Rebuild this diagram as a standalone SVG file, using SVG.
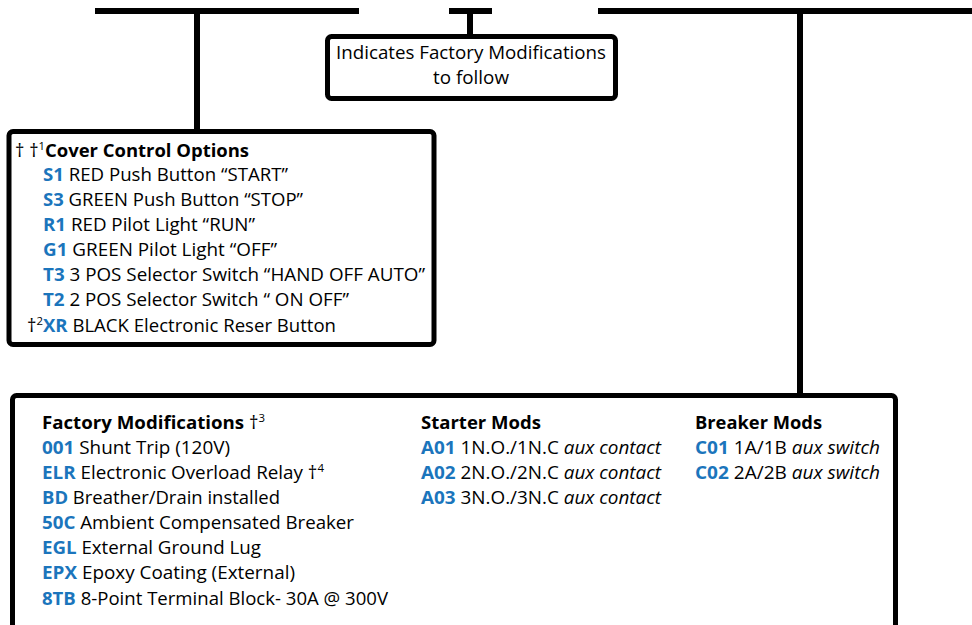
<svg xmlns="http://www.w3.org/2000/svg" width="972" height="625" viewBox="0 0 972 625">
<style>
.ln{stroke:#000;stroke-width:6;fill:none}
.bx{stroke:#000;stroke-width:5;fill:#fff}
text{font-family:"Open Sans","Noto Sans","Liberation Sans",sans-serif;font-size:18px;fill:#000}
.b{font-weight:bold}
.c{font-weight:bold;fill:#1b75bc}
.i{font-style:italic}
.s{font-size:11px}
</style>
<rect width="972" height="625" fill="#fff"/>
<g id="connectors">
<line class="ln" x1="95" y1="11" x2="359" y2="11"/>
<line class="ln" x1="449" y1="11" x2="492" y2="11"/>
<line class="ln" x1="598" y1="11" x2="972" y2="11"/>
<line class="ln" x1="197" y1="11" x2="197" y2="131"/>
<line class="ln" x1="470" y1="11" x2="470" y2="37"/>
<line class="ln" x1="800" y1="11" x2="800" y2="396"/>
</g>
<g id="note">
<rect class="bx" x="327.5" y="36.5" width="288" height="62" rx="4"/>
<text x="336" y="59" textLength="270" lengthAdjust="spacingAndGlyphs">Indicates Factory Modifications</text>
<text x="433" y="84" textLength="76" lengthAdjust="spacingAndGlyphs">to follow</text>
</g>
<g id="cover-control">
<rect class="bx" x="9" y="131.5" width="425" height="213" rx="4"/>
<text x="15" y="157" textLength="234" lengthAdjust="spacingAndGlyphs">† †<tspan class="s" dy="-7">1</tspan><tspan class="b" dy="7">Cover Control Options</tspan></text>
<text x="43" y="181" textLength="245" lengthAdjust="spacingAndGlyphs"><tspan class="c">S1</tspan> RED Push Button “START”</text>
<text x="43" y="206" textLength="260" lengthAdjust="spacingAndGlyphs"><tspan class="c">S3</tspan> GREEN Push Button “STOP”</text>
<text x="43" y="231" textLength="212" lengthAdjust="spacingAndGlyphs"><tspan class="c">R1</tspan> RED Pilot Light “RUN”</text>
<text x="43" y="256" textLength="234" lengthAdjust="spacingAndGlyphs"><tspan class="c">G1</tspan> GREEN Pilot Light “OFF”</text>
<text x="43" y="281" textLength="382" lengthAdjust="spacingAndGlyphs"><tspan class="c">T3</tspan> 3 POS Selector Switch “HAND OFF AUTO”</text>
<text x="43" y="306" textLength="306" lengthAdjust="spacingAndGlyphs"><tspan class="c">T2</tspan> 2 POS Selector Switch “ ON OFF”</text>
<text x="27" y="332" textLength="309" lengthAdjust="spacingAndGlyphs">†<tspan class="s" dy="-7">2</tspan><tspan class="c" dy="7">XR</tspan> BLACK Electronic Reser Button</text>
</g>
<g id="modifications">
<rect class="bx" x="12.5" y="395.5" width="883" height="260" rx="4"/>
<text x="42" y="429" textLength="223" lengthAdjust="spacingAndGlyphs"><tspan class="b">Factory Modifications</tspan> †<tspan class="s" dy="-7">3</tspan></text>
<text x="42" y="454" textLength="188" lengthAdjust="spacingAndGlyphs"><tspan class="c">001</tspan> Shunt Trip (120V)</text>
<text x="42" y="479" textLength="282" lengthAdjust="spacingAndGlyphs"><tspan class="c">ELR</tspan> Electronic Overload Relay †<tspan class="s" dy="-7">4</tspan></text>
<text x="42" y="504" textLength="238" lengthAdjust="spacingAndGlyphs"><tspan class="c">BD</tspan> Breather/Drain installed</text>
<text x="42" y="529" textLength="312" lengthAdjust="spacingAndGlyphs"><tspan class="c">50C</tspan> Ambient Compensated Breaker</text>
<text x="42" y="554" textLength="219" lengthAdjust="spacingAndGlyphs"><tspan class="c">EGL</tspan> External Ground Lug</text>
<text x="42" y="579" textLength="253" lengthAdjust="spacingAndGlyphs"><tspan class="c">EPX</tspan> Epoxy Coating (External)</text>
<text x="42" y="605" textLength="346" lengthAdjust="spacingAndGlyphs"><tspan class="c">8TB</tspan> 8-Point Terminal Block- 30A @ 300V</text>
<text x="421" y="429" class="b" textLength="120" lengthAdjust="spacingAndGlyphs">Starter Mods</text>
<text x="421" y="454" textLength="240" lengthAdjust="spacingAndGlyphs"><tspan class="c">A01</tspan> 1N.O./1N.C <tspan class="i">aux contact</tspan></text>
<text x="421" y="479" textLength="240" lengthAdjust="spacingAndGlyphs"><tspan class="c">A02</tspan> 2N.O./2N.C <tspan class="i">aux contact</tspan></text>
<text x="421" y="504" textLength="240" lengthAdjust="spacingAndGlyphs"><tspan class="c">A03</tspan> 3N.O./3N.C <tspan class="i">aux contact</tspan></text>
<text x="695" y="429" class="b" textLength="127" lengthAdjust="spacingAndGlyphs">Breaker Mods</text>
<text x="695" y="454" textLength="185" lengthAdjust="spacingAndGlyphs"><tspan class="c">C01</tspan> 1A/1B <tspan class="i">aux switch</tspan></text>
<text x="695" y="479" textLength="185" lengthAdjust="spacingAndGlyphs"><tspan class="c">C02</tspan> 2A/2B <tspan class="i">aux switch</tspan></text>
</g>
</svg>
